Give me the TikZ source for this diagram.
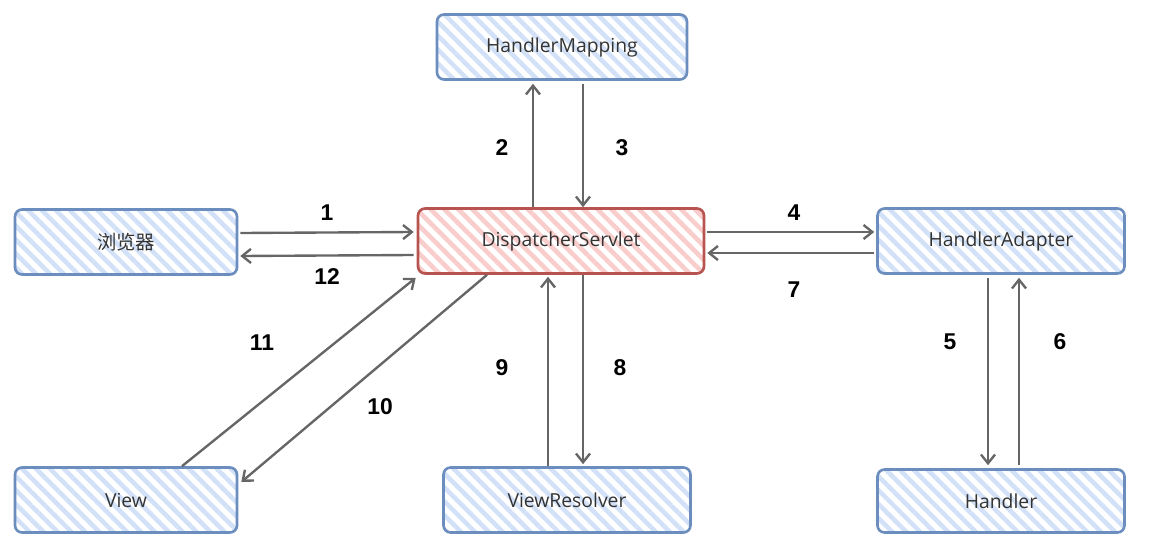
\documentclass[tikz,border=0pt]{standalone}
\usepackage{fontspec}
\setmainfont{Open Sans}
\newfontfamily\numfont{Liberation Sans}
\newfontfamily\cjk{Noto Sans CJK SC}
\usepackage{tikz}
\usetikzlibrary{calc,arrows.meta,patterns.meta}
\definecolor{bluedraw}{HTML}{6C8EBF}
\definecolor{bluefill}{HTML}{D2E1F7}
\definecolor{reddraw}{HTML}{B85450}
\definecolor{redfill}{HTML}{F8CDCB}
\definecolor{arrowgray}{HTML}{666666}
\definecolor{text}{HTML}{333333}
\tikzset{
  box/.style={rectangle, rounded corners=4pt, line width=1.5pt, draw=bluedraw,
    pattern={Lines[angle=-45,distance=5.6pt,line width=2.6pt]}, pattern color=bluefill,
    minimum width=4.94cm, minimum height=1.3cm, text=text, font=\fontsize{11}{13}\selectfont},
  hot/.style={box, draw=reddraw, pattern color=redfill},
  flow/.style={draw=arrowgray, line width=1.35pt, -{Straight Barb[length=5pt,width=8pt]}},
  num/.style={text=black, font=\numfont\bfseries\fontsize{13}{15}\selectfont},
}

\begin{document}
\begin{tikzpicture}[x=0.02cm,y=-0.02cm]
  \useasboundingbox (0,0) rectangle (1153,544);

  \node[box,minimum width=5cm] (HM) at (562,47) {HandlerMapping};
  \node[box,minimum width=4.44cm] (B) at (126,242) {\cjk 浏览器};
  \node[hot,minimum width=5.72cm] (DS) at (561,241) {DispatcherServlet};
  \node[box] (HA) at (1001,241) {HandlerAdapter};
  \node[box,minimum width=4.44cm] (V) at (126,500) {View};
  \node[box] (VR) at (567,500) {ViewResolver};
  \node[box,minimum height=1.26cm] (H) at (1001,501) {Handler};

  \draw[flow] ($(B.east)+(2,-9)$) -- ($(DS.west)+(-3,-9)$);
  \draw[flow] ($(DS.north)+(-28,0)$) -- ($(HM.south)+(-29,2)$);
  \draw[flow] ($(HM.south)+(21,2)$) -- ($(DS.north)+(22,0)$);
  \draw[flow] ($(DS.east)+(2,-9)$) -- ($(HA.west)+(-2,-9)$);
  \draw[flow] ($(HA.south)+(-13,3)$) -- ($(H.north)+(-13,-3)$);
  \draw[flow] ($(H.north)+(18,-3)$) -- ($(HA.south)+(18,3)$);
  \draw[flow] ($(HA.west)+(-2,12)$) -- ($(DS.east)+(2,12)$);
  \draw[flow] ($(DS.south)+(22,0)$) -- ($(VR.north)+(16,-2)$);
  \draw[flow] ($(VR.north)+(-19,0)$) -- ($(DS.south)+(-13,2)$);
  \draw[flow] ($(DS.south)+(-74,0)$) -- ($(V.east)+(3,-18)$);
  \draw[flow] ($(V.north)+(56,0)$) -- ($(DS.south west)+(-1,3)$);
  \draw[flow] ($(DS.west)+(-3,14)$) -- ($(B.east)+(2,14)$);

  \node[num] (n1) at (327,213) {1};
  \node[num] (n2) at (502,148) {2};
  \node[num] (n3) at (622,148) {3};
  \node[num] (n4) at (794,213) {4};
  \node[num] (n5) at (950,342) {5};
  \node[num] (n6) at (1060,342) {6};
  \node[num] (n7) at (794,290) {7};
  \node[num] (n8) at (620,368) {8};
  \node[num] (n9) at (502,368) {9};
  \node[num] (n10) at (380,407) {10};
  \node[num] (n11) at (262,343) {11};
  \node[num] (n12) at (327,277) {12};
\end{tikzpicture}
\end{document}
